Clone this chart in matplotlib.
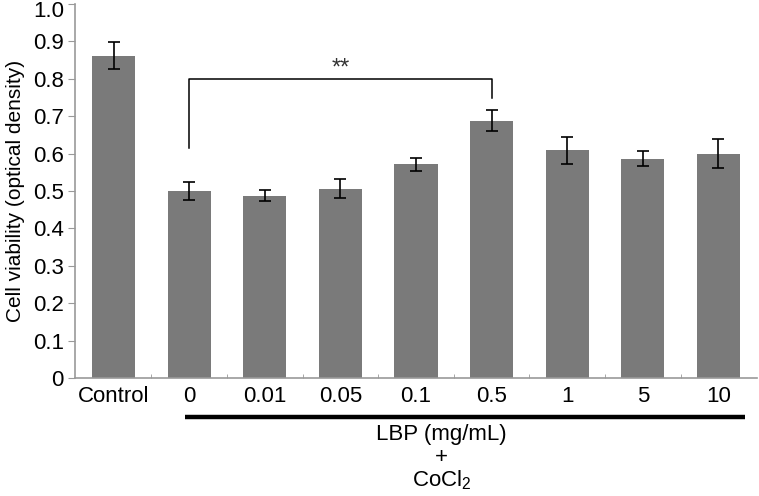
import matplotlib
matplotlib.use("Agg")
import matplotlib.pyplot as plt
import matplotlib.transforms as mtransforms

plt.rcParams['font.family'] = ['Liberation Sans', 'DejaVu Sans']
plt.rcParams['mathtext.default'] = 'regular'

categories = ["Control", "0", "0.01", "0.05", "0.1", "0.5", "1", "5", "10"]
viability = [0.862, 0.500, 0.487, 0.506, 0.571, 0.688, 0.609, 0.586, 0.600]
errors = [0.035, 0.025, 0.015, 0.025, 0.017, 0.028, 0.036, 0.020, 0.039]

fig = plt.figure(figsize=(7.59, 4.96), dpi=100)
ax = fig.add_axes([0.0988, 0.238, 0.8986, 0.754])

x = list(range(len(categories)))
ax.bar(x, viability, width=0.57, color="#7a7a7a", yerr=errors,
       error_kw=dict(ecolor="black", elinewidth=1.2, capsize=4, capthick=1.2))

ax.set_xlim(-0.51, 8.51)
ax.set_ylim(0, 1.0)
ax.set_yticks([i / 10 for i in range(11)])
ax.set_yticklabels(["0"] + ["%.1f" % (i / 10) for i in range(1, 11)])
ax.set_xticks(x)
ax.set_xticklabels(categories)
ax.set_xticks([i + 0.5 for i in range(len(categories) - 1)], minor=True)

ax.tick_params(axis="y", labelsize=16, length=5, color="#999999", direction="out", pad=3)
ax.tick_params(axis="x", which="major", labelsize=16, length=0, pad=6)
ax.tick_params(axis="x", which="minor", length=3, direction="in", color="#999999")

# top label sits a little lower so it stays inside the figure
top_lab = ax.get_yticklabels()[-1]
top_lab.set_transform(top_lab.get_transform() +
                      mtransforms.ScaledTranslation(0, -5 / 100, fig.dpi_scale_trans))

for s in ["top", "right"]:
    ax.spines[s].set_visible(False)
for s in ["left", "bottom"]:
    ax.spines[s].set_color("#999999")
    ax.spines[s].set_linewidth(1.2)

ax.set_ylabel("Cell viability (optical density)", fontsize=15, labelpad=6)

# significance bracket between 0 and 0.5
ax.plot([1, 1, 5, 5], [0.615, 0.8, 0.8, 0.748], color="black", lw=1.1)
ax.text(3, 0.797, "**", ha="center", va="bottom", fontsize=17, color="#333333")

# group line and label under the axis
ax.plot([0.94, 8.35], [-0.104, -0.104], color="black", lw=3.2, clip_on=False,
        solid_capstyle="butt")
ax.text(4.34, -0.152, "LBP (mg/mL)", ha="center", va="center", fontsize=16)
ax.text(4.34, -0.214, "+", ha="center", va="center", fontsize=16)
ax.text(4.34, -0.273, "CoCl$_2$", ha="center", va="center", fontsize=16)

fig.savefig("out.png", dpi=100)
